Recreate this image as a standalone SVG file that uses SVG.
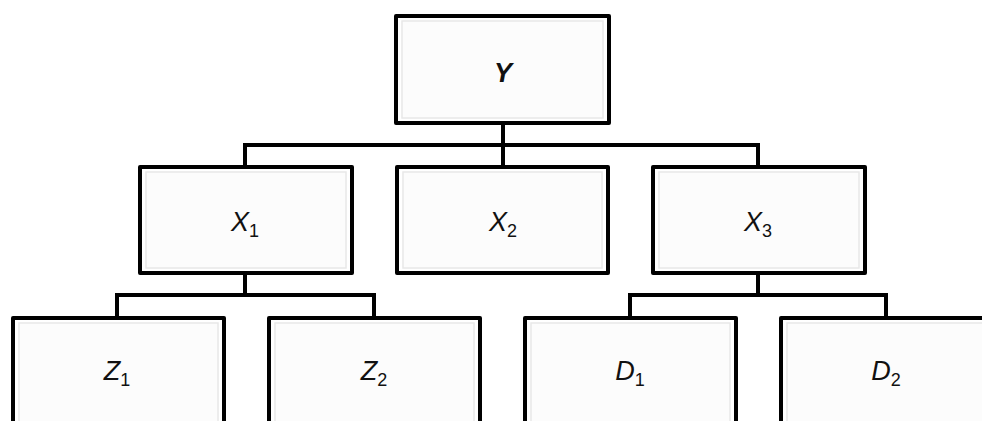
<svg xmlns="http://www.w3.org/2000/svg" width="982" height="421" viewBox="0 0 982 421">
<style>
.box{fill:#ffffff;stroke:#000;stroke-width:4;stroke-linejoin:round}
.inner{fill:#fcfcfc;stroke:#e8e8e8;stroke-width:1.5}
.conn{fill:none;stroke:#000;stroke-width:4;stroke-linejoin:miter}
.lbl{font-family:"Liberation Sans",Arial,sans-serif;font-style:italic;font-size:27px;fill:#111;text-anchor:middle}
.sub{font-size:18px;font-style:normal}
</style>
<rect width="982" height="421" fill="#fff"/>
<g id="connectors">
<path class="conn" d="M503 124 V145 M245 166 V145 H758 V167 M503 145 V167"/>
<path class="conn" d="M245 274 V295 M117 317 V295 H374 V317"/>
<path class="conn" d="M758 274 V295 M630 317 V295 H886 V317"/>
</g>
<g id="Y">
<rect class="box" x="396" y="16" width="213" height="107"/>
<rect class="inner" x="402" y="21" width="201" height="97"/>
<text class="lbl" x="503" y="82" font-weight="bold" font-size="33">Y</text>
</g>
<g id="X1">
<rect class="box" x="140" y="167" width="212" height="106"/>
<rect class="inner" x="146" y="172" width="200" height="96"/>
<text class="lbl" x="245" y="231">X<tspan class="sub" dy="6">1</tspan></text>
</g>
<g id="X2">
<rect class="box" x="397" y="167" width="211" height="106"/>
<rect class="inner" x="403" y="172" width="199" height="96"/>
<text class="lbl" x="503" y="231">X<tspan class="sub" dy="6">2</tspan></text>
</g>
<g id="X3">
<rect class="box" x="653" y="167" width="212" height="106"/>
<rect class="inner" x="659" y="172" width="200" height="96"/>
<text class="lbl" x="758" y="231">X<tspan class="sub" dy="6">3</tspan></text>
</g>
<g id="Z1">
<rect class="box" x="13" y="318" width="211" height="120"/>
<rect class="inner" x="19" y="323" width="199" height="110"/>
<text class="lbl" x="117" y="380">Z<tspan class="sub" dy="6">1</tspan></text>
</g>
<g id="Z2">
<rect class="box" x="269" y="318" width="211" height="120"/>
<rect class="inner" x="275" y="323" width="199" height="110"/>
<text class="lbl" x="374" y="380">Z<tspan class="sub" dy="6">2</tspan></text>
</g>
<g id="D1">
<rect class="box" x="525" y="318" width="211" height="120"/>
<rect class="inner" x="531" y="323" width="199" height="110"/>
<text class="lbl" x="630" y="380">D<tspan class="sub" dy="6">1</tspan></text>
</g>
<g id="D2">
<rect class="box" x="781" y="318" width="211" height="120"/>
<rect class="inner" x="787" y="323" width="199" height="110"/>
<text class="lbl" x="886" y="380">D<tspan class="sub" dy="6">2</tspan></text>
</g>
</svg>
